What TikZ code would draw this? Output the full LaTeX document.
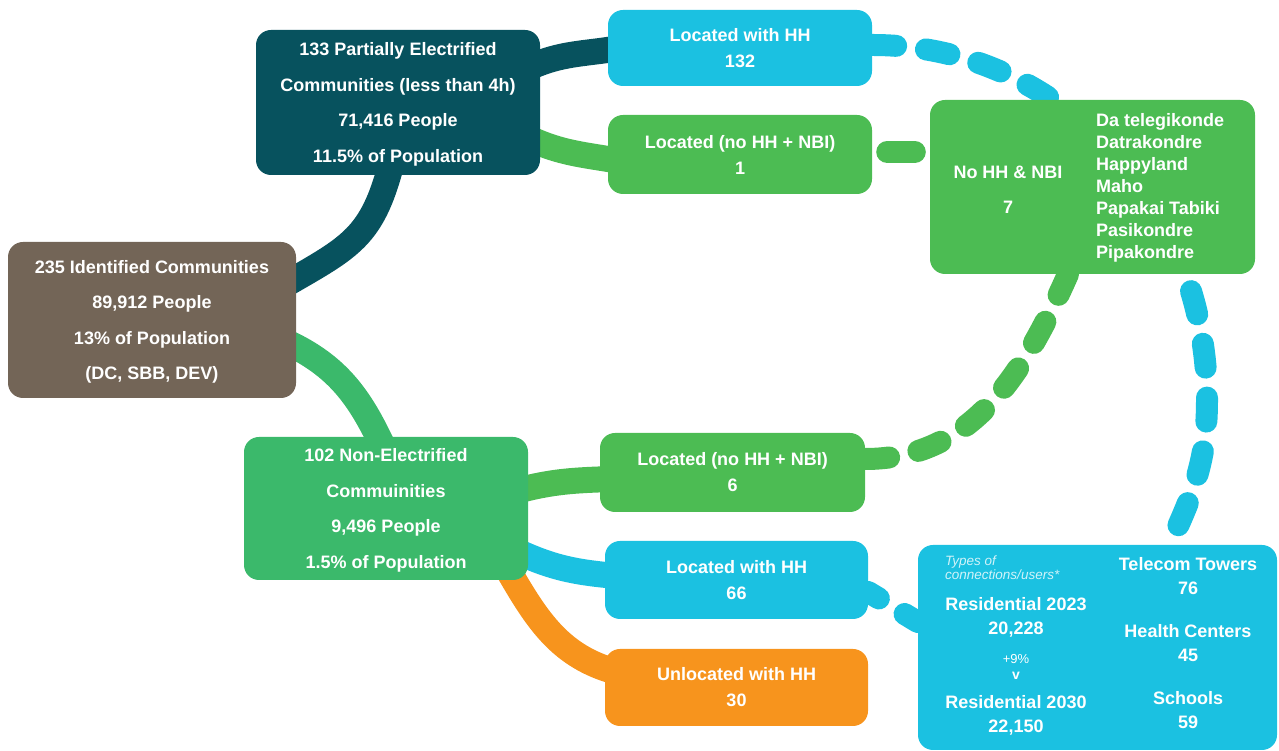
\documentclass[tikz,border=0pt]{standalone}
\usepackage{fontspec}
\setmainfont{Liberation Sans}
\usetikzlibrary{positioning, backgrounds}

\definecolor{brownbox}{HTML}{736557}
\definecolor{tealbox}{HTML}{07525E}
\definecolor{greenbox}{HTML}{3BB96B}
\definecolor{limebox}{HTML}{4CBC53}
\definecolor{bluebox}{HTML}{1BC1E1}
\definecolor{orangebox}{HTML}{F7941D}

\begin{document}
\begin{tikzpicture}[
            x=1pt, y=1pt,
            box/.style={
                rounded corners=15pt, fill=#1, text=white, align=center, inner sep=0pt,
                font=\bfseries\fontsize{18}{35.5}\selectfont
            },
            mainbox/.style={box=#1, text depth=0pt},
            smallbox/.style={box=#1, font=\bfseries\fontsize{18}{26}\selectfont},
            link/.style={line width=26pt, draw=#1},
            dashlink/.style={line width=22pt, draw=#1, line cap=round, dash pattern=on 24pt off 30pt},
            lbl/.style={text=white, align=center, inner sep=0pt, font=\bfseries\fontsize{18}{24}\selectfont}
        ]
        \useasboundingbox (0,0) rectangle (1279,751);

        % main boxes
        \node[mainbox=brownbox, minimum width=288pt, minimum height=156pt] (ident) at (152,431)
            {235 Identified Communities\\89,912 People\\13\% of Population\\(DC, SBB, DEV)};
        \node[mainbox=tealbox, minimum width=284pt, minimum height=145pt] (partial) at (398,648.5)
            {133 Partially Electrified\\Communities (less than 4h)\\71,416 People\\11.5\% of Population};
        \node[mainbox=greenbox, minimum width=284pt, minimum height=143pt] (nonelec) at (386,242.5)
            {102 Non-Electrified\\Commuinities\\9,496 People\\1.5\% of Population};

        % second column
        \node[smallbox=bluebox, minimum width=264pt, minimum height=76pt] (pwithhh) at (740,703) {Located with HH\\132};
        \node[smallbox=limebox, minimum width=264pt, minimum height=79pt] (pnohh) at (740,596.5) {Located (no HH + NBI)\\1};
        \node[smallbox=limebox, minimum width=265pt, minimum height=79pt] (nnohh) at (732.5,278.5) {Located (no HH + NBI)\\6};
        \node[smallbox=bluebox, minimum width=263pt, minimum height=78pt] (nwithhh) at (736.5,171) {Located with HH\\66};
        \node[smallbox=orangebox, minimum width=263pt, minimum height=77pt] (nunloc) at (736.5,63.5) {Unlocated with HH\\30};

        % no HH & NBI
        \node[box=limebox, minimum width=325pt, minimum height=174pt] (nbi) at (1092.5,564) {};
        \node[lbl, font=\bfseries\fontsize{18}{35}\selectfont] (nbilabel) at (1008,561) {No HH \& NBI\\7};
        \node[lbl, align=left, anchor=west, font=\bfseries\fontsize{18}{22}\selectfont] (nbilist) at (1096,563.5)
            {Da telegikonde\\Datrakondre\\Happyland\\Maho\\Papakai Tabiki\\Pasikondre\\Pipakondre};

        % users
        \node[box=bluebox, minimum width=359pt, minimum height=205pt] (users) at (1097.5,103.5) {};
        \node[anchor=north west, inner sep=0pt, align=left, text=white!80!bluebox,
            font=\itshape\fontsize{13.5}{14}\selectfont] (types) at (945,195.5) {Types of\\connections/users*};
        \node[lbl] (res23) at (1016,134) {Residential 2023\\20,228};
        \node[lbl, font=\fontsize{13}{13}\selectfont] (growth) at (1016,92) {+9\%};
        \node[lbl, font=\bfseries\fontsize{14}{14}\selectfont] (growthv) at (1016,75) {v};
        \node[lbl] (res30) at (1016,36) {Residential 2030\\22,150};
        \node[lbl] (towers) at (1188,175) {Telecom Towers\\76};
        \node[lbl] (health) at (1188,108) {Health Centers\\45};
        \node[lbl] (schools) at (1188,41) {Schools\\59};

        \begin{scope}[on background layer]
            \draw[link=tealbox] ([xshift=-10pt, yshift=36pt]ident.east) to[out=30, in=-105, looseness=1.2] ([xshift=-7pt, yshift=10pt]partial.south);
            \draw[link=greenbox] ([xshift=-10pt, yshift=-22pt]ident.east) to[out=-25, in=115] ([xshift=-3pt, yshift=-10pt]nonelec.north);
            \draw[link=tealbox] ([xshift=-12pt, yshift=34.5pt]partial.east) to[out=25, in=190] ([xshift=12pt]pwithhh.west);
            \draw[link=limebox] ([xshift=-12pt, yshift=-35.5pt]partial.east) to[out=-25, in=170] ([xshift=12pt, yshift=-6.5pt]pnohh.west);
            \draw[link=limebox] ([xshift=-12pt, yshift=17.5pt]nonelec.east) to[out=15, in=182] ([xshift=12pt, yshift=-6.5pt]nnohh.west);
            \draw[link=bluebox] ([xshift=-12pt, yshift=-42.5pt]nonelec.east) to[out=-25, in=175] ([xshift=12pt, yshift=4pt]nwithhh.west);
            \draw[link=orangebox] ([xshift=-20pt, yshift=10pt]nonelec.south east) to[out=-60, in=165] ([xshift=12pt, yshift=15.5pt]nunloc.west);

            \coordinate (bend) at (1207,351);
            \draw[dashlink=bluebox] ([yshift=3pt]pwithhh.east) to[out=0, in=90] (bend)
                to[out=-90, in=65] ([xshift=72pt]users.north);
            \draw[dashlink=limebox, solid, shorten <=15pt, shorten >=15pt] ([yshift=2.5pt]pnohh.east) -- ([yshift=2.5pt]pnohh.east -| nbi.west);
            \draw[dashlink=limebox] ([yshift=13.5pt]nnohh.east) to[out=0, in=-114] ([xshift=-24.5pt]nbi.south);
            \draw[dashlink=bluebox, dash phase=11.5pt] ([yshift=-12pt]nwithhh.east) -- ([yshift=25.5pt]users.west);
        \end{scope}
    \end{tikzpicture}
\end{document}
